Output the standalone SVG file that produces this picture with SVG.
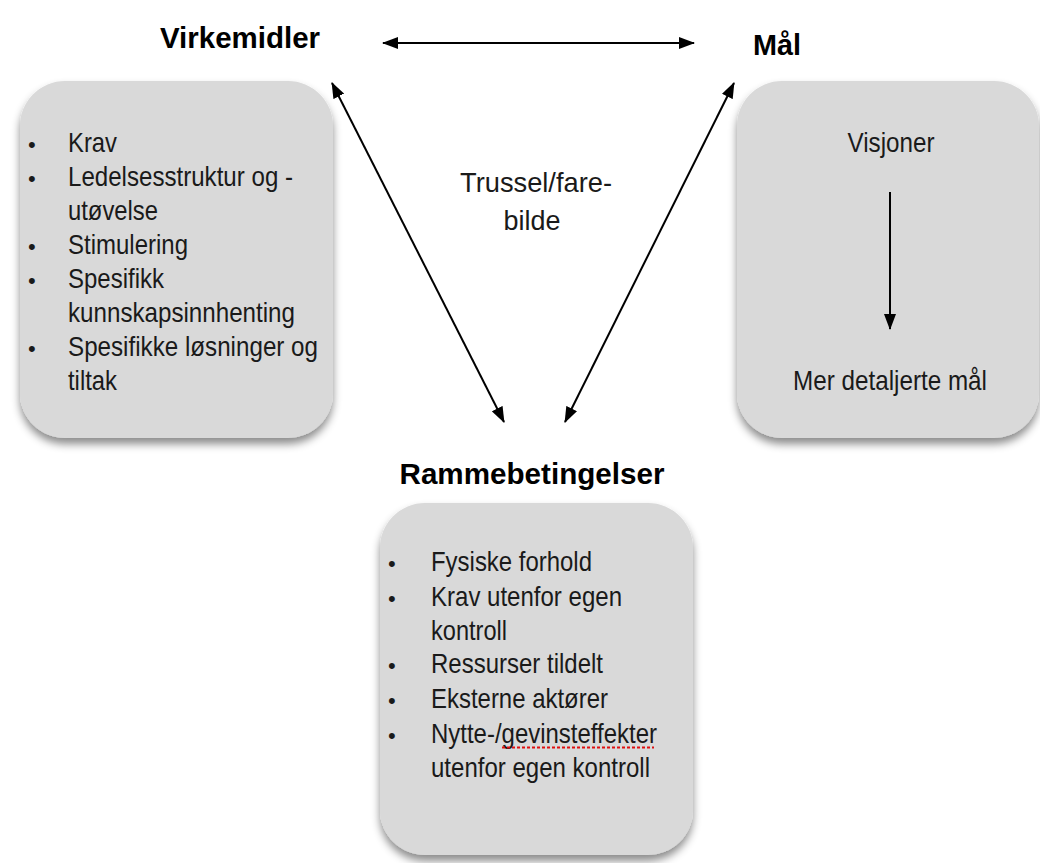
<svg xmlns="http://www.w3.org/2000/svg" width="1040" height="863" viewBox="0 0 1040 863">
<style>
.box{fill:#d9d9d9;filter:url(#sh)}
.h{font-family:"Liberation Sans",Arial,sans-serif;font-weight:bold;font-size:30px;fill:#000}
.t{font-family:"Liberation Sans",Arial,sans-serif;font-size:28px;fill:#1a1a1a}
.b{font-family:"Liberation Sans",Arial,sans-serif;font-size:22px;fill:#1a1a1a}
.c{stroke:#000;stroke-width:2;fill:none;marker-end:url(#ah);marker-start:url(#ah)}
</style>
<defs>
<filter id="sh" x="-10%" y="-10%" width="120%" height="125%">
<feDropShadow dx="0" dy="6" stdDeviation="4" flood-color="#000" flood-opacity="0.45"/>
</filter>
<marker id="ah" markerUnits="userSpaceOnUse" markerWidth="16" markerHeight="12" refX="15" refY="6" orient="auto-start-reverse" viewBox="0 0 16 12">
<path d="M0,0 L16,6 L0,12 z" fill="#000"/>
</marker>
</defs>
<rect width="1040" height="863" fill="#fff"/>
<g id="connectors">
<line class="c" x1="383" y1="43" x2="694" y2="43"/>
<line class="c" x1="332" y1="83" x2="504" y2="422"/>
<line class="c" x1="734" y1="83" x2="565" y2="422"/>
</g>
<g id="virkemidler">
<text class="h" x="240" y="48" text-anchor="middle" textLength="160" lengthAdjust="spacingAndGlyphs">Virkemidler</text>
<rect class="box" x="20" y="81" width="313" height="357" rx="45"/>
<g class="b"><text x="28" y="152">•</text><text x="28" y="186">•</text><text x="28" y="254">•</text><text x="28" y="288">•</text><text x="28" y="356">•</text></g>
<text class="t" x="68" y="152" textLength="49" lengthAdjust="spacingAndGlyphs">Krav</text>
<text class="t" x="68" y="186" textLength="225" lengthAdjust="spacingAndGlyphs">Ledelsesstruktur og -</text>
<text class="t" x="68" y="220" textLength="90" lengthAdjust="spacingAndGlyphs">utøvelse</text>
<text class="t" x="68" y="254" textLength="120" lengthAdjust="spacingAndGlyphs">Stimulering</text>
<text class="t" x="68" y="288" textLength="96" lengthAdjust="spacingAndGlyphs">Spesifikk</text>
<text class="t" x="68" y="322" textLength="227" lengthAdjust="spacingAndGlyphs">kunnskapsinnhenting</text>
<text class="t" x="68" y="356" textLength="250" lengthAdjust="spacingAndGlyphs">Spesifikke løsninger og</text>
<text class="t" x="68" y="390" textLength="49" lengthAdjust="spacingAndGlyphs">tiltak</text>
</g>
<g id="maal">
<text class="h" x="777" y="55" text-anchor="middle" textLength="48" lengthAdjust="spacingAndGlyphs">Mål</text>
<rect class="box" x="737" y="81" width="302" height="357" rx="45"/>
<text class="t" x="891" y="152" text-anchor="middle" textLength="87" lengthAdjust="spacingAndGlyphs">Visjoner</text>
<line x1="890" y1="192" x2="890" y2="329" stroke="#000" stroke-width="2" marker-end="url(#ah)"/>
<text class="t" x="890" y="390" text-anchor="middle" textLength="194" lengthAdjust="spacingAndGlyphs">Mer detaljerte mål</text>
</g>
<g id="trussel">
<text class="t" x="536" y="192" text-anchor="middle" textLength="152" lengthAdjust="spacingAndGlyphs">Trussel/fare-</text>
<text class="t" x="532" y="230" text-anchor="middle" textLength="57" lengthAdjust="spacingAndGlyphs">bilde</text>
</g>
<g id="rammebetingelser">
<text class="h" x="532" y="484" text-anchor="middle" textLength="265" lengthAdjust="spacingAndGlyphs">Rammebetingelser</text>
<rect class="box" x="380" y="503" width="313" height="352" rx="45"/>
<g class="b"><text x="388" y="571">•</text><text x="388" y="606">•</text><text x="388" y="673">•</text><text x="388" y="708">•</text><text x="388" y="743">•</text></g>
<text class="t" x="431" y="571" textLength="161" lengthAdjust="spacingAndGlyphs">Fysiske forhold</text>
<text class="t" x="431" y="606" textLength="191" lengthAdjust="spacingAndGlyphs">Krav utenfor egen</text>
<text class="t" x="431" y="640" textLength="76" lengthAdjust="spacingAndGlyphs">kontroll</text>
<text class="t" x="431" y="673" textLength="172" lengthAdjust="spacingAndGlyphs">Ressurser tildelt</text>
<text class="t" x="431" y="708" textLength="177" lengthAdjust="spacingAndGlyphs">Eksterne aktører</text>
<text class="t" x="431" y="743" textLength="226" lengthAdjust="spacingAndGlyphs">Nytte-/gevinsteffekter</text>
<line x1="502" y1="747.5" x2="654" y2="747.5" stroke="#e01010" stroke-width="2" stroke-dasharray="3,2"/>
<text class="t" x="431" y="777" textLength="219" lengthAdjust="spacingAndGlyphs">utenfor egen kontroll</text>
</g>
</svg>
